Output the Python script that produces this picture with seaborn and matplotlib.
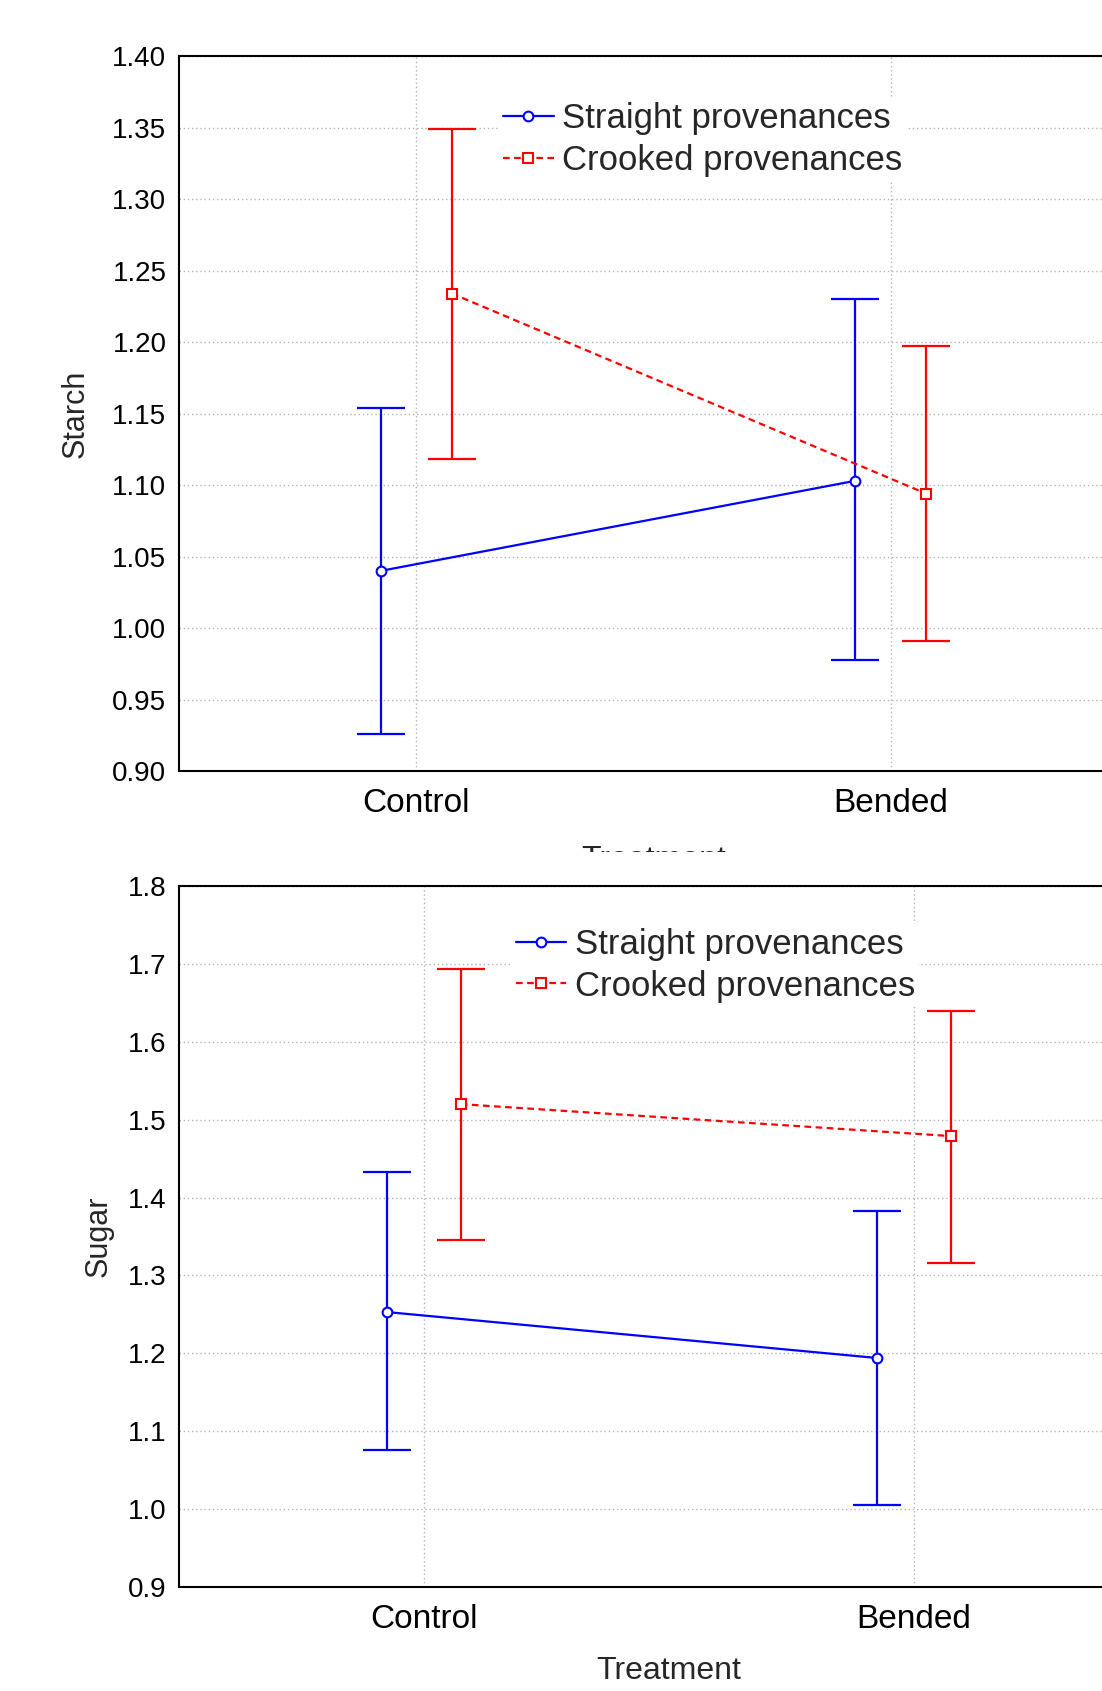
import numpy as np
import pandas as pd
import matplotlib
matplotlib.use('Agg')
import matplotlib.pyplot as plt
from matplotlib.patches import Rectangle
import seaborn as sns

sns.set_style('white')
plt.rcParams['font.family'] = ['Liberation Sans', 'DejaVu Sans']

# data (means and confidence limits)
treatments = ['Control', 'Bended']
provenances = ['Straight provenances', 'Crooked provenances']

starch_straight = [1.040, 1.103]
starch_straight_lo = [0.926, 0.978]
starch_straight_hi = [1.154, 1.230]
starch_crooked = [1.234, 1.094]
starch_crooked_lo = [1.118, 0.991]
starch_crooked_hi = [1.349, 1.197]

sugar_straight = [1.253, 1.194]
sugar_straight_lo = [1.076, 1.005]
sugar_straight_hi = [1.433, 1.383]
sugar_crooked = [1.520, 1.479]
sugar_crooked_lo = [1.346, 1.316]
sugar_crooked_hi = [1.694, 1.640]

starch_ticks = [0.90, 0.95, 1.00, 1.05, 1.10, 1.15, 1.20, 1.25, 1.30, 1.35, 1.40]
sugar_ticks = [0.9, 1.0, 1.1, 1.2, 1.3, 1.4, 1.5, 1.6, 1.7, 1.8]

colors = ['#0000ff', '#ff0000']


def make_frame(s, s_lo, s_hi, c, c_lo, c_hi):
    return pd.DataFrame({
        'Treatment': treatments * 2,
        'Provenance': [provenances[0]] * 2 + [provenances[1]] * 2,
        'mean': s + c,
        'lo': s_lo + c_lo,
        'hi': s_hi + c_hi,
    })


def draw(ax, df, ylabel, yticks, fmt, ypad, xpad, leg_xy):
    sns.pointplot(data=df, x='Treatment', y='mean', hue='Provenance',
                  order=treatments, hue_order=provenances, palette=colors,
                  markers=['o', 's'], linestyles=['-', '--'], dodge=0.15,
                  errorbar=None, ax=ax, legend=False)
    lines = ax.lines[:2]
    for i, (ln, prov) in enumerate(zip(lines, provenances)):
        ln.set_markerfacecolor('white')
        ln.set_markersize(7)
        ln.set_markeredgewidth(1.5)
        ln.set_linewidth(1.6)
        ln.set_zorder(5)
        if i == 1:
            ln.set_linestyle((0, (3, 2)))
        sub = df[df['Provenance'] == prov].set_index('Treatment').loc[treatments]
        y = sub['mean'].values
        ax.errorbar(ln.get_xdata(), y,
                    yerr=[y - sub['lo'].values, sub['hi'].values - y],
                    fmt='none', ecolor=colors[i], elinewidth=1.6,
                    capsize=17, capthick=1.6, zorder=4)

    ax.set_xlim(-0.5, 1.5)
    ax.set_ylim(yticks[0], yticks[-1])
    ax.set_yticks(yticks)
    ax.set_yticklabels([fmt.format(v) for v in yticks])
    ax.grid(True, color='#b4b4b4', linestyle=(0, (1, 2)), linewidth=1)
    ax.set_axisbelow(True)
    for sp in ax.spines.values():
        sp.set_color('black')
        sp.set_linewidth(1.5)
    ax.tick_params(axis='x', direction='in', length=5, width=1.5,
                   labelsize=24, pad=12, colors='black')
    ax.tick_params(axis='y', length=0, labelsize=20, pad=9, colors='black')
    ax.set_ylabel(ylabel, fontsize=22, labelpad=ypad)
    ax.set_xlabel('Treatment', fontsize=23, labelpad=xpad)

    leg = ax.legend(lines, provenances, loc='center left',
                    bbox_to_anchor=leg_xy, borderaxespad=0, borderpad=0.1,
                    fontsize=25, frameon=True, framealpha=1,
                    edgecolor='none', facecolor='white', fancybox=False,
                    handlelength=1.45, handletextpad=0.25, labelspacing=0.25,
                    numpoints=1)
    leg.set_zorder(6)


fig = plt.figure(figsize=(11.02, 16.91), dpi=100)

ax1 = fig.add_axes([0.1624, 0.544, 0.8612, 0.4228])
draw(ax1, make_frame(starch_straight, starch_straight_lo, starch_straight_hi,
                     starch_crooked, starch_crooked_lo, starch_crooked_hi),
     'Starch', starch_ticks, '{:.2f}', 16, 19, (0.338, 0.883))

# the lower chart is pasted over the bottom of the upper one
fig.patches.append(Rectangle((0, 0), 1, 0.496, transform=fig.transFigure,
                             facecolor='white', edgecolor='none', zorder=1))

ax2 = fig.add_axes([0.1624, 0.0615, 0.8895, 0.4145])
ax2.set_zorder(2)
draw(ax2, make_frame(sugar_straight, sugar_straight_lo, sugar_straight_hi,
                     sugar_crooked, sugar_crooked_lo, sugar_crooked_hi),
     'Sugar', sugar_ticks, '{:.1f}', 10, 15, (0.34, 0.887))

fig.savefig('out.png', dpi=100, facecolor='white')
